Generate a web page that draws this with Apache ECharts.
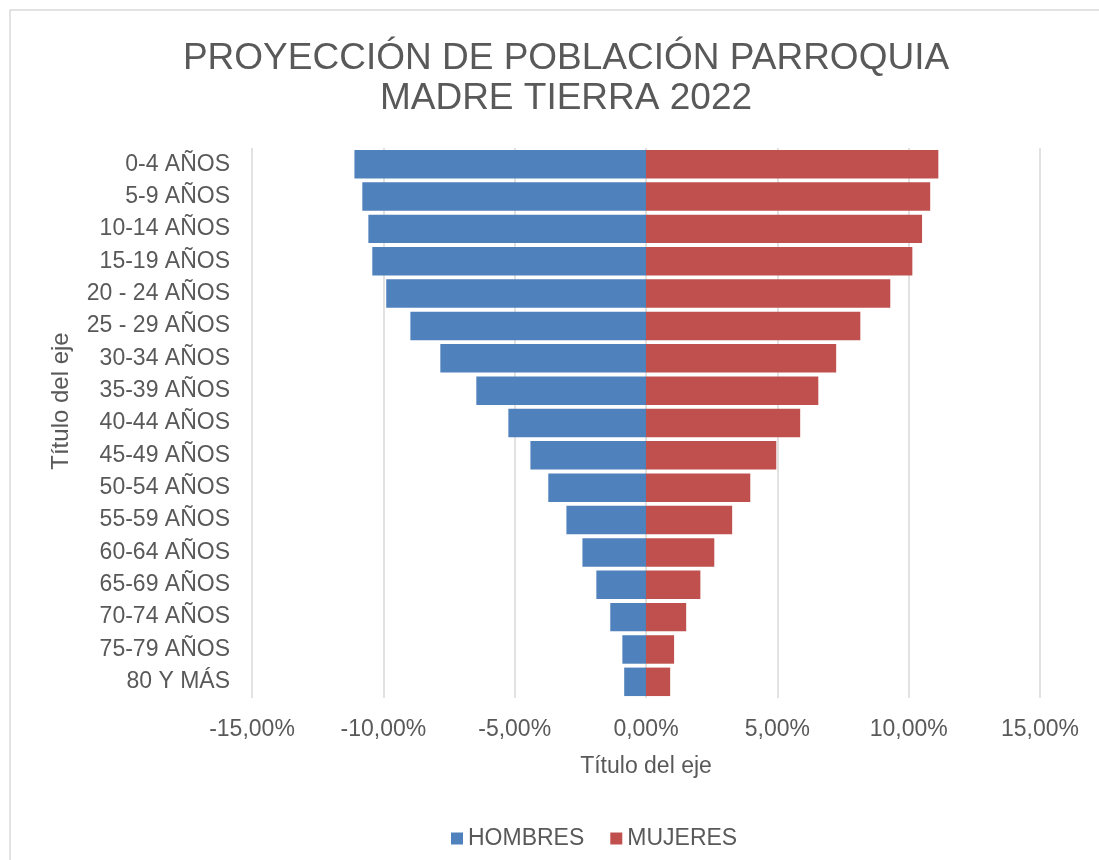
<!DOCTYPE html>
<html>
<head>
<meta charset="utf-8">
<script src="https://cdn.jsdelivr.net/npm/echarts@6/dist/echarts.min.js"></script>
<style>
  html, body { margin: 0; padding: 0; background: #fff; }
  #main { width: 1099px; height: 860px; }
</style>
</head>
<body>
<div id="main"></div>
<script>
// grupos de edad (de arriba hacia abajo)
const categorias = [
  '0-4 AÑOS', '5-9 AÑOS', '10-14 AÑOS', '15-19 AÑOS', '20 - 24 AÑOS', '25 - 29 AÑOS',
  '30-34 AÑOS', '35-39 AÑOS', '40-44 AÑOS', '45-49 AÑOS', '50-54 AÑOS', '55-59 AÑOS',
  '60-64 AÑOS', '65-69 AÑOS', '70-74 AÑOS', '75-79 AÑOS', '80 Y MÁS'
];
// porcentajes (%)
const hombres = [11.10, 10.80, 10.57, 10.42, 9.89, 8.97, 7.83, 6.46, 5.24, 4.40, 3.72, 3.03, 2.42, 1.89, 1.36, 0.90, 0.83];
const mujeres = [11.13, 10.82, 10.51, 10.14, 9.30, 8.16, 7.24, 6.56, 5.87, 4.96, 3.97, 3.28, 2.60, 2.07, 1.53, 1.07, 0.92];
const ejeX = { min: -15, max: 15, interval: 5 };

const fuente = "'Liberation Sans', Arial, sans-serif";
const gris = '#595959';

const fmt = v => v.toFixed(2).replace('.', ',') + '%';

const config = {
  backgroundColor: '#fff',
  textStyle: { fontFamily: fuente },
  title: {
    text: 'PROYECCIÓN DE POBLACIÓN PARROQUIA\nMADRE TIERRA 2022',
    left: 561,
    top: 34,
    textAlign: 'center',
    textStyle: {
      fontFamily: fuente,
      fontSize: 37,
      fontWeight: 'normal',
      color: gris,
      lineHeight: 40,
    },
  },
  // 图例
  legend: {
    data: ['HOMBRES', 'MUJERES'],
    left: 446,
    top: 822,
    icon: 'rect',
    itemWidth: 12,
    itemHeight: 12,
    itemGap: 26,
    textStyle: { fontFamily: fuente, fontSize: 23, color: gris },
  },
  grid: { left: 252, right: 59, top: 148, bottom: 162 },
  xAxis: {
    type: 'value',
    min: ejeX.min,
    max: ejeX.max,
    interval: ejeX.interval,
    name: 'Título del eje',
    nameLocation: 'middle',
    nameGap: 57,
    nameTextStyle: { fontFamily: fuente, fontSize: 23, color: gris },
    axisLine: { show: false },
    axisTick: { show: false },
    axisLabel: { margin: 20, fontSize: 23, color: gris, formatter: fmt },
    splitLine: { lineStyle: { color: '#d9d9d9', width: 1.5 } },
  },
  yAxis: {
    type: 'category',
    data: categorias,
    inverse: true,
    axisLine: { show: false, onZero: false },
    axisTick: { show: false },
    axisLabel: { margin: 22, fontSize: 23, color: gris },
  },
  graphic: [
    {
      type: 'rect',
      shape: { x: 10, y: 10, width: 1100, height: 900 },
      style: { fill: 'none', stroke: '#d9d9d9', lineWidth: 1.5 },
      silent: true,
    },
    {
      type: 'text',
      x: 61,
      y: 401,
      rotation: Math.PI / 2,
      style: {
        text: 'Título del eje',
        font: '24px ' + fuente,
        fill: gris,
        align: 'center',
        verticalAlign: 'middle',
      },
    },
  ],
  series: [
    {
      name: 'HOMBRES',
      type: 'bar',
      stack: 'piramide',
      barCategoryGap: '12%',
      data: hombres.map(v => -v),
      itemStyle: { color: '#4f81bd' },
    },
    {
      name: 'MUJERES',
      type: 'bar',
      stack: 'piramide',
      barCategoryGap: '12%',
      data: mujeres,
      itemStyle: { color: '#c0504d' },
    },
  ],
};

const myChart = echarts.init(document.getElementById('main'));
myChart.setOption(config);
</script>
</body>
</html>
